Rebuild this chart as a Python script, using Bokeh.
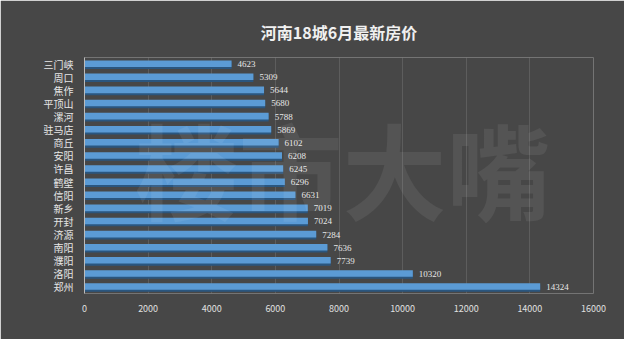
from bokeh.plotting import figure
from bokeh.models import ColumnDataSource, FactorRange, Range1d, Label, FixedTicker
from bokeh.transform import dodge
from bokeh.embed import file_html
from bokeh.resources import INLINE

cities = ["三门峡", "周口", "焦作", "平顶山", "漯河", "驻马店", "商丘", "安阳", "许昌",
          "鹤壁", "信阳", "新乡", "开封", "济源", "南阳", "濮阳", "洛阳", "郑州"]
prices = [4623, 5309, 5644, 5680, 5788, 5869, 6102, 6208, 6245,
          6296, 6631, 7019, 7024, 7284, 7636, 7739, 10320, 14324]
x_ticks = [0, 2000, 4000, 6000, 8000, 10000, 12000, 14000, 16000]
title_text = "河南18城6月最新房价"

src = ColumnDataSource(dict(city=cities, price=prices, label=[str(v) for v in prices]))

BG = "#474747"
FONT = "Noto Sans CJK SC"

p = figure(width=624, height=339, output_backend="svg", toolbar_location=None,
           y_range=FactorRange(*cities[::-1], range_padding=0),
           x_range=Range1d(0, 16000),
           min_border_left=84, min_border_right=31, min_border_top=57, min_border_bottom=46)
p.background_fill_color = BG
p.border_fill_color = BG
p.outline_line_color = None

p.title.text = title_text
p.title.align = "center"
p.title.text_color = "#f0f0f0"
p.title.text_font = FONT
p.title.text_font_size = "16px"
p.title.text_font_style = "bold"
p.title.offset = 0
p.title.standoff = 27

# watermark
wm = Label(x=258, y=126, x_units="screen", y_units="screen", text="楼市大嘴",
           text_font=FONT, text_font_size="104px", text_font_style="bold",
           text_color="white", text_alpha=0.07, text_align="center", text_baseline="middle")
p.add_layout(wm)

# bar shadow (3D edge) and bar
p.hbar(y=dodge("city", -0.1, range=p.y_range), right="price", left=0, height=0.55,
       source=src, fill_color="#2a567f", line_color=None)
p.hbar(y=dodge("city", 0.03, range=p.y_range), right="price", left=0, height=0.5,
       source=src, fill_color="#5b9bd5", line_color=None)

p.text(x="price", y="city", text="label", source=src, x_offset=6,
       text_font=FONT, text_font_size="9px", text_color="#e6e6e6",
       text_baseline="middle", text_align="left")

p.xaxis.ticker = FixedTicker(ticks=x_ticks)
p.xaxis.axis_line_color = None
p.xaxis.major_tick_line_color = None
p.xaxis.minor_tick_line_color = None
p.xaxis.major_label_text_color = "#e0e0e0"
p.xaxis.major_label_text_font = FONT
p.xaxis.major_label_text_font_size = "9px"
p.xaxis.major_label_standoff = 5

p.yaxis.axis_line_color = "#bbbbbb"
p.yaxis.major_tick_line_color = None
p.yaxis.major_label_text_color = "#e6e6e6"
p.yaxis.major_label_text_font = FONT
p.yaxis.major_label_text_font_size = "10px"
p.yaxis.major_label_standoff = 5

p.xgrid.ticker = FixedTicker(ticks=x_ticks)
p.xgrid.grid_line_color = "#ffffff"
p.xgrid.grid_line_alpha = 0.12
p.ygrid.grid_line_color = None

open("out.html", "w").write(file_html(p, INLINE))
